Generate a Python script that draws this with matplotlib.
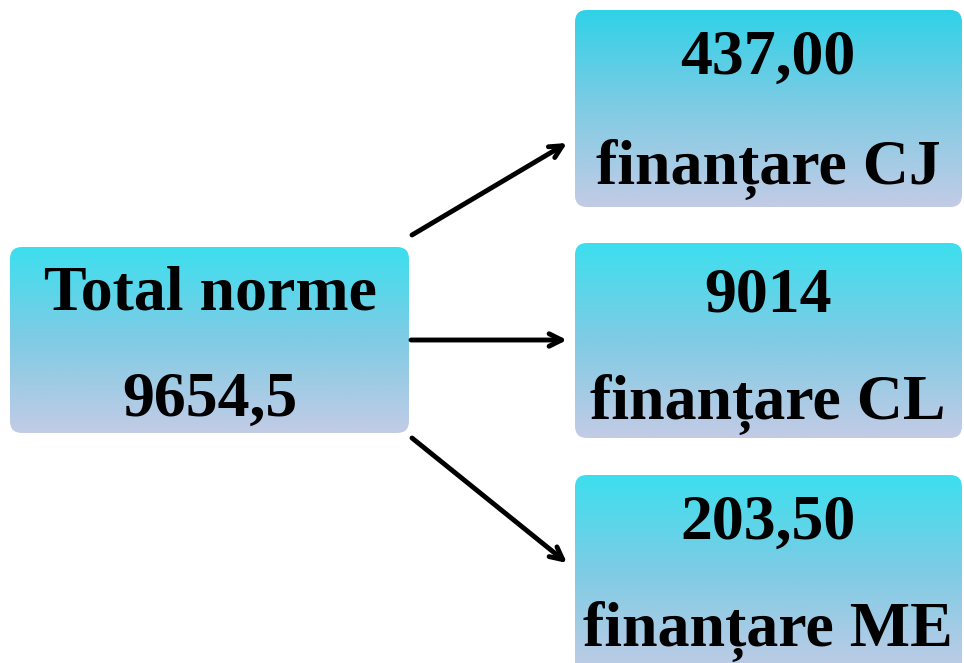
import matplotlib
matplotlib.use("Agg")
import matplotlib.pyplot as plt
import numpy as np
from matplotlib.patches import FancyBboxPatch
from matplotlib.colors import LinearSegmentedColormap

total_label = "Total norme"
total_value = "9654,5"
parts_values = ["437,00", "9014", "203,50"]
parts_labels = ["finanțare CJ", "finanțare CL", "finanțare ME"]

W, H = 964, 663
fig = plt.figure(figsize=(W / 100, H / 100), dpi=100)
ax = fig.add_axes([0, 0, 1, 1])
ax.set_xlim(0, W)
ax.set_ylim(H, 0)
ax.axis("off")

grad = np.linspace(0, 1, 256).reshape(-1, 1)


def box(x0, y0, x1, y1, top="#3cdfef"):
    cmap = LinearSegmentedColormap.from_list("grad", [top, "#80cbe4", "#c3cbe6"])
    patch = FancyBboxPatch((x0, y0), x1 - x0, y1 - y0,
                           boxstyle="round,pad=0,rounding_size=12",
                           linewidth=0, facecolor="none")
    ax.add_patch(patch)
    im = ax.imshow(grad, cmap=cmap, extent=(x0, x1, y1, y0),
                   aspect="auto", interpolation="bilinear", zorder=1)
    im.set_clip_path(patch)


font = dict(family="Liberation Serif", weight="bold", fontsize=46,
            ha="center", va="center", color="black", zorder=3)

# left box
box(10, 247, 409, 433)
ax.text(210, 294, total_label, **font)
ax.text(210, 401, total_value, **font)

# right boxes
tops = [10, 243, 475]
bots = [207, 438, 675]
tops_col = ["#2fd2e8", "#3cdfef", "#3cdfef"]
val_y = [59, 296, 524]
lab_y = [169, 404, 631]
for i in range(3):
    box(575, tops[i], 962, bots[i], tops_col[i])
    ax.text(768, val_y[i], parts_values[i], **font)
    ax.text(768, lab_y[i], parts_labels[i], **font)

# arrows
starts = [(412, 235), (411, 340), (412, 438)]
ends = [(567, 143), (567, 340), (567, 563)]
for s, e in zip(starts, ends):
    ax.annotate("", xy=e, xytext=s,
                arrowprops=dict(arrowstyle="->,head_length=0.9,head_width=0.45",
                                color="black", lw=3.5, shrinkA=0, shrinkB=0))

fig.savefig("out.png", dpi=100)
